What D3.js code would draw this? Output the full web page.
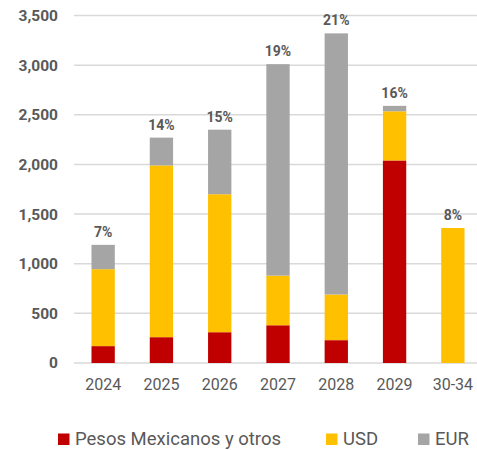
<!DOCTYPE html>
<html><head><meta charset="utf-8">
<script src="https://cdn.jsdelivr.net/npm/d3@7"></script>
<style>body{margin:0;background:#fff}svg{display:block}</style>
</head><body><svg id="c" width="477" height="450"></svg>
<script>
const categories = ["2024","2025","2026","2027","2028","2029","30-34"];
const mxn = [170, 260, 310, 380, 230, 2040, 0];
const usd = [775, 1730, 1390, 500, 460, 495, 1360];
const eur = [245, 280, 650, 2130, 2630, 55, 0];
const pctLabels = ["7%","14%","15%","19%","21%","16%","8%"];
const seriesNames = ["Pesos Mexicanos y otros","USD","EUR"];
const colors = ["#C00000","#FFC000","#A5A5A5"];
const yTicks = [0,500,1000,1500,2000,2500,3000,3500];

const svg = d3.select("#c");
const font = "Roboto, 'Open Sans', sans-serif";
const x = d3.scaleBand().domain(categories).range([74, 482]).paddingInner(0.6).paddingOuter(0.3);
const y = d3.scaleLinear().domain([0, 3500]).range([363, 15.5]);

// gridlines
svg.append("g").selectAll("line").data(yTicks).join("line")
  .attr("x1", 74).attr("x2", 477)
  .attr("y1", d => y(d)).attr("y2", d => y(d))
  .attr("stroke", "#d9d9d9").attr("stroke-width", 1.5);

// y axis labels
const yAxis = d3.axisLeft(y).tickValues(yTicks).tickFormat(d3.format(",")).tickSize(0).tickPadding(0);
const ga = svg.append("g").attr("transform", "translate(58,0)").call(yAxis);
ga.select(".domain").remove();
ga.selectAll("text").attr("font-family", font).attr("font-size", 15.5).attr("font-weight", "bold").attr("fill", "#595959");

// x axis labels
const xAxis = d3.axisBottom(x).tickSize(0).tickPadding(0);
const gx = svg.append("g").attr("transform", "translate(0,384)").call(xAxis);
gx.select(".domain").remove();
gx.selectAll("text").attr("font-family", font).attr("font-size", 16).attr("fill", "#595959").attr("dy", "0.35em");

// stacked bars
const rows = categories.map((c, i) => ({cat: c, mxn: mxn[i], usd: usd[i], eur: eur[i]}));
const stack = d3.stack().keys(["mxn","usd","eur"])(rows);
svg.append("g").selectAll("g").data(stack).join("g")
  .attr("fill", (d, i) => colors[i])
  .selectAll("rect").data(d => d).join("rect")
  .attr("x", d => x(d.data.cat))
  .attr("width", x.bandwidth())
  .attr("y", d => y(d[1]))
  .attr("height", d => y(d[0]) - y(d[1]));

// percentage labels
svg.append("g").selectAll("text").data(rows).join("text")
  .attr("x", d => x(d.cat) + x.bandwidth() / 2)
  .attr("y", d => y(d.mxn + d.usd + d.eur) - 8)
  .attr("text-anchor", "middle")
  .attr("font-family", font).attr("font-size", 14).attr("font-weight", "bold").attr("fill", "#595959")
  .text((d, i) => pctLabels[i]);

// legend
const legX = [58, 326, 418];
const lg = svg.append("g").selectAll("g").data(seriesNames).join("g")
  .attr("transform", (d, i) => `translate(${legX[i]},433.5)`);
lg.append("rect").attr("width", 11.5).attr("height", 11.5).attr("fill", (d, i) => colors[i]);
lg.append("text").attr("x", 17).attr("y", 11.5)
  .attr("font-family", font).attr("font-size", 18.5).attr("fill", "#595959")
  .text(d => d);
</script></body></html>
